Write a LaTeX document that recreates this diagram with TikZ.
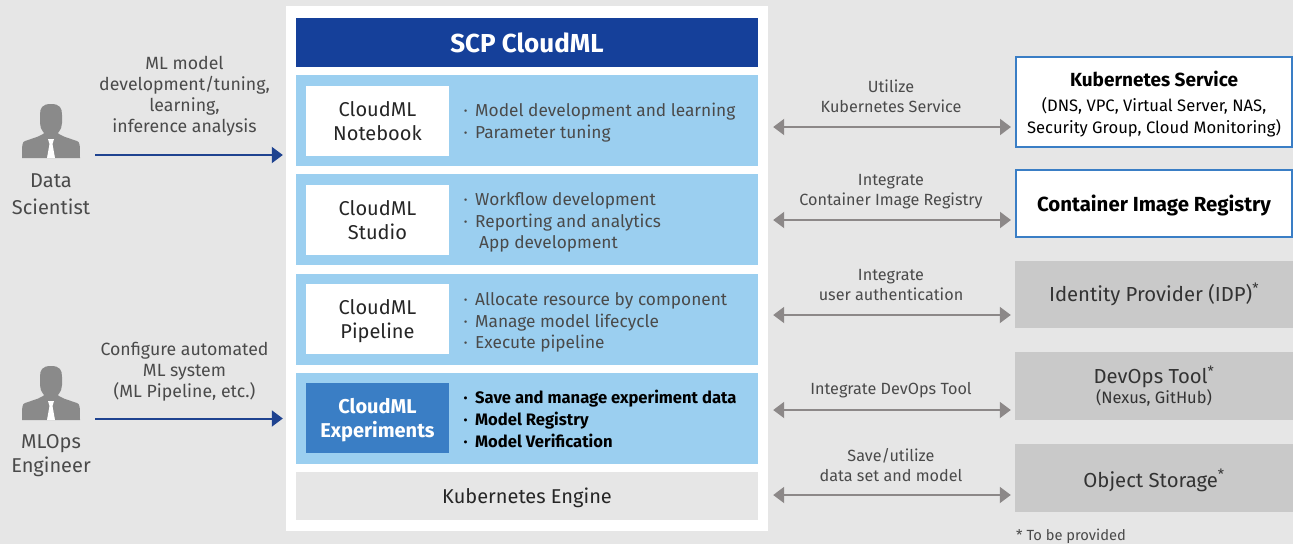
\documentclass[tikz,border=0pt]{standalone}
\usepackage{fontspec}
\setmainfont{Fira Sans}
\usetikzlibrary{arrows.meta}
\definecolor{pagegray}{HTML}{E6E6E6}
\definecolor{titleblue}{HTML}{15409A}
\definecolor{bandblue}{HTML}{9BCFF0}
\definecolor{boxblue}{HTML}{3A7EC5}
\definecolor{arrowblue}{HTML}{1F4390}
\definecolor{arrowgray}{HTML}{8C8888}
\definecolor{servicegray}{HTML}{C9C9C9}
\definecolor{labelgray}{HTML}{4A4A4A}
\definecolor{icongray}{HTML}{8A8A8A}
\newcommand{\itm}[1]{\makebox[11.5pt][l]{\textperiodcentered}#1}
\tikzset{
  band/.style={fill=bandblue,minimum width=462pt,minimum height=91pt,inner sep=0pt},
  modbox/.style={fill=white,text=black!85,minimum width=143pt,minimum height=70pt,inner sep=0pt,align=center,font=\fontsize{20}{24}\selectfont},
  items/.style={anchor=west,inner sep=0pt,align=left,text=labelgray,font=\fontsize{17.3}{21.5}\selectfont},
  note/.style={inner sep=0pt,align=center,text=labelgray,font=\fontsize{16.2}{20}\selectfont},
  actor/.style={inner sep=0pt,align=center,text=labelgray,font=\fontsize{20}{27}\selectfont},
  service/.style={fill=servicegray,text=black!80,minimum width=278pt,inner sep=0pt,align=center,font=\fontsize{20.3}{22}\selectfont},
  framed/.style={fill=white,draw=boxblue,line width=2pt,minimum width=276pt,inner sep=0pt,align=center,text=black},
  oneway/.style={draw=arrowblue,line width=2pt,-{Triangle[length=11pt,width=16pt]}},
  twoway/.style={draw=arrowgray,line width=2pt,{Triangle[length=11pt,width=16pt]}-{Triangle[length=11pt,width=16pt]}},
  person/.pic={
    \fill[icongray] (-7,-4) -- (-8,-3) .. controls (-11,-1) and (-11,-1) .. (-26,4) .. controls (-29,5) and (-29,8) .. (-29,21)
      -- (29,21) .. controls (29,8) and (29,5) .. (26,4) .. controls (11,-1) and (11,-1) .. (8,-3) -- (7,-4) -- cycle;
    \fill[icongray] (0,-33) .. controls (-9,-33) and (-11,-29) .. (-11,-22) -- (-11,-14)
      .. controls (-11,-7) and (-6,-1) .. (0,-1) .. controls (6,-1) and (11,-7) .. (11,-14) -- (11,-22)
      .. controls (11,-29) and (9,-33) .. (0,-33) -- cycle;
    \fill[white] (-3,2) -- (3,2) -- (1.5,7) -- (4,21) -- (-4,21) -- (-1.5,7) -- cycle;
  }
}
\begin{document}
\begin{tikzpicture}[x=1pt,y=-1pt]
  \fill[pagegray] (0,0) rectangle (1293,544);
  \useasboundingbox (0,0) rectangle (1293,544);
  \fill[white] (286,6) rectangle (768,531);

  % centre column
  \node[fill=titleblue,text=white,minimum width=462pt,minimum height=49pt,inner sep=0pt,font=\fontsize{26}{28}\selectfont\bfseries] (title) at (527,42.5) {SCP CloudML};
  \node[band] (notebookband) at (527,120.5) {};
  \node[band] (studioband) at (527,219.5) {};
  \node[band] (pipelineband) at (527,319.5) {};
  \node[band] (experimentsband) at (527,418.5) {};
  \node[fill=pagegray,text=black!85,minimum width=462pt,minimum height=48pt,inner sep=0pt,text depth=0pt,font=\fontsize{20}{24}\selectfont] (engine) at (527,496) {Kubernetes Engine};

  \node[modbox] (notebook) at (377.5,121) {CloudML\\Notebook};
  \node[modbox] (studio) at (377.5,220) {CloudML\\Studio};
  \node[modbox,text depth=0pt] (pipeline) at (377.5,319) {CloudML\\Pipeline};
  \node[modbox,text depth=0pt,fill=boxblue,text=white,font=\fontsize{20}{24}\selectfont\bfseries] (experiments) at (377.5,418) {CloudML\\Experiments};

  \node[items] (notebookitems) at (463.5,122.5) {\itm{Model development and learning}\\\itm{Parameter tuning}};
  \node[items] (studioitems) at (463.5,222.5) {\itm{Workflow development}\\\itm{Reporting and analytics}\\\hspace*{15.5pt}App development};
  \node[items] (pipelineitems) at (463.5,322.5) {\itm{Allocate resource by component}\\\itm{Manage model lifecycle}\\\itm{Execute pipeline}};
  \node[items,text=black,font=\fontsize{16.6}{21.7}\selectfont\bfseries] (experimentsitems) at (463.5,418.8) {\itm{Save and manage experiment data}\\\itm{Model Registry}\\\itm{Model Verification}};

  % left side
  \pic at (51,137) {person};
  \pic at (51,399) {person};
  \node[actor] (scientist) at (51,194) {Data\\Scientist};
  \node[actor,font=\fontsize{20}{24}\selectfont] (engineer) at (51,455.5) {MLOps\\Engineer};
  \node[note,font=\fontsize{17.7}{21}\selectfont] (scientistnote) at (184.5,96.5) {ML model\\development/tuning,\\learning,\\inference analysis};
  \node[note,font=\fontsize{17.7}{21}\selectfont] (engineernote) at (184.5,372) {Configure automated\\ML system\\(ML Pipeline, etc.)};
  \coordinate (scientiststart) at (95,155);
  \coordinate (engineerstart) at (95,418.5);
  \draw[oneway] (scientiststart) -- ([shift={(-13,34.5)}]notebookband.west);
  \draw[oneway] (engineerstart) -- ([xshift=-13pt]experimentsband.west);

  % right side
  \node[framed,minimum height=90pt,text depth=0pt,font=\fontsize{16.6}{22}\selectfont] (kubeservice) at (1154,102) {{\fontsize{19}{21}\selectfont\bfseries Kubernetes Service}\\[3pt](DNS, VPC, Virtual Server, NAS,\\Security Group, Cloud Monitoring)};
  \node[framed,minimum height=67pt,text depth=0pt,font=\fontsize{20.4}{22}\selectfont\bfseries] (registry) at (1154,203) {Container Image Registry};
  \node[service,minimum height=67pt] (idp) at (1154,294.5) {Identity Provider (IDP)\textsuperscript{*}};
  \node[service,minimum height=68pt] (devops) at (1154,386) {DevOps Tool\textsuperscript{*}\\[-2pt]{\fontsize{16.5}{19}\selectfont (Nexus, GitHub)}};
  \node[service,minimum height=68pt,text depth=0pt] (storage) at (1154,478) {Object Storage\textsuperscript{*}};
  \node[anchor=west,inner sep=0pt,text=labelgray,font=\fontsize{14.7}{16}\selectfont] (provided) at (1016,536) {* To be provided};

  \node[note] (kubenote) at (891,96.5) {Utilize\\Kubernetes Service};
  \node[note] (registrynote) at (891,192) {Integrate\\Container Image Registry};
  \node[note] (idpnote) at (891,285) {Integrate\\user authentication};
  \node[note] (devopsnote) at (891,390) {Integrate DevOps Tool};
  \node[note] (storagenote) at (891,465) {Save/utilize\\data set and model};

  \draw[twoway] ([shift={(15,6.5)}]notebookband.east) -- ([shift={(-4,25)}]kubeservice.west);
  \draw[twoway] ([shift={(15,0.5)}]studioband.east) -- ([shift={(-4,17)}]registry.west);
  \draw[twoway] ([shift={(15,-4.5)}]pipelineband.east) -- ([shift={(-4,20.5)}]idp.west);
  \draw[twoway] ([shift={(15,-8.5)}]experimentsband.east) -- ([shift={(-4,24)}]devops.west);
  \draw[twoway] ([shift={(15,-1)}]engine.east) -- ([shift={(-4,17)}]storage.west);
\end{tikzpicture}
\end{document}
